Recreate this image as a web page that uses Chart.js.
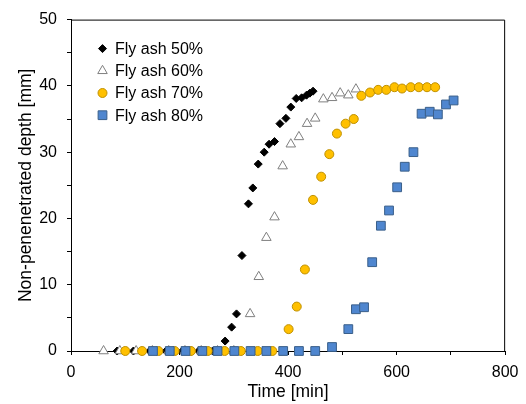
<!DOCTYPE html>
<html>
<head>
<meta charset="utf-8">
<script src="https://cdn.jsdelivr.net/npm/chart.js@4/dist/chart.umd.min.js"></script>
<style>
  html, body { margin: 0; padding: 0; background: #fff; }
</style>
</head>
<body>
<canvas id="chart" width="526" height="404"></canvas>
<script>
// values
const seriesNames = ['Fly ash 50%', 'Fly ash 60%', 'Fly ash 70%', 'Fly ash 80%'];

const time50 = [85, 115, 145, 175, 205, 235, 261, 284, 296, 305, 315, 327, 335, 345, 356, 365, 375, 385, 396, 405, 415, 425, 434, 440, 446];
const depth50 = [0, 0, 0, 0, 0, 0, 0, 1.5, 3.6, 5.6, 14.4, 22.2, 24.6, 28.2, 30.0, 31.2, 31.6, 34.3, 35.1, 36.8, 38.1, 38.2, 38.6, 38.9, 39.2];

const time60 = [60, 90, 120, 150, 180, 210, 240, 270, 300, 330, 346, 360, 375, 390, 405, 420, 435, 450, 465, 481, 496, 511, 525];
const depth60 = [0, 0, 0, 0, 0, 0, 0, 0, 0, 5.6, 11.2, 17.1, 20.2, 27.9, 31.2, 32.3, 34.3, 35.1, 38.0, 38.2, 38.9, 38.6, 39.5];

const time70 = [100, 131, 161, 191, 221, 252, 283, 313, 344, 371, 401, 416, 431, 446, 461, 476, 490, 506, 521, 535, 551, 566, 581, 596, 610, 626, 641, 656, 671];
const depth70 = [0, 0, 0, 0, 0, 0, 0, 0, 0, 0, 3.3, 6.7, 12.3, 22.8, 26.3, 29.7, 32.8, 34.3, 35.0, 38.5, 39.0, 39.4, 39.4, 39.8, 39.6, 39.8, 39.8, 39.8, 39.8];

const time80 = [151, 182, 211, 242, 270, 301, 331, 360, 391, 420, 450, 481, 511, 525, 540, 555, 571, 586, 601, 615, 631, 646, 661, 676, 691, 705];
const depth80 = [0, 0, 0, 0, 0, 0, 0, 0, 0, 0, 0, 0.6, 3.3, 6.3, 6.6, 13.4, 18.9, 21.2, 24.7, 27.8, 30.0, 35.8, 36.1, 35.7, 37.2, 37.8];

const xLabels = [0, 200, 400, 600, 800];
const yLabels = [0, 10, 20, 30, 40, 50];

const toPoints = (xs, ys) => xs.map((x, i) => ({ x: x, y: ys[i] }));

Chart.defaults.font.family = '"Liberation Sans", Arial, sans-serif';
Chart.defaults.color = '#000';

// box round the plot (top and right sides)
const frame = {
    id: 'frame',
    beforeDatasetsDraw(chart) {
        const a = chart.chartArea;
        const ctx = chart.ctx;
        ctx.save();
        ctx.strokeStyle = '#000';
        ctx.lineWidth = 1;
        ctx.beginPath();
        ctx.moveTo(a.left, a.top + 0.5);
        ctx.lineTo(a.right - 0.5, a.top + 0.5);
        ctx.lineTo(a.right - 0.5, a.bottom);
        ctx.stroke();
        ctx.restore();
    }
};

// legend inside the plot, top left
const insideLegend = {
    id: 'insideLegend',
    afterDatasetsDraw(chart) {
        const a = chart.chartArea;
        const ctx = chart.ctx;
        ctx.save();
        chart.data.datasets.forEach((ds, i) => {
            const y = a.top + 29 + i * 22.2;
            const x = a.left + 31.5;
            ctx.fillStyle = ds.backgroundColor;
            ctx.strokeStyle = ds.borderColor;
            ctx.lineWidth = ds.borderWidth;
            Chart.helpers.drawPoint(ctx, {
                pointStyle: ds.pointStyle,
                radius: ds.pointRadius,
                rotation: 0,
                borderWidth: ds.borderWidth
            }, x, y);
            ctx.fillStyle = '#000';
            ctx.font = '16px "Liberation Sans", Arial, sans-serif';
            ctx.textBaseline = 'middle';
            ctx.fillText(ds.label, x + 12.5, y + 1);
        });
        ctx.restore();
    }
};

new Chart(document.getElementById('chart'), {
    type: 'scatter',
    data: {
        datasets: [
            {
                label: seriesNames[0],
                data: toPoints(time50, depth50),
                pointStyle: 'rectRot',
                pointRadius: 4,
                backgroundColor: '#000',
                borderColor: '#000',
                borderWidth: 1,
                order: 4,
                clip: false
            },
            {
                label: seriesNames[1],
                data: toPoints(time60, depth60),
                pointStyle: 'triangle',
                pointRadius: 5.5,
                backgroundColor: '#fff',
                borderColor: '#7f7f7f',
                borderWidth: 1,
                order: 3,
                clip: false
            },
            {
                label: seriesNames[2],
                data: toPoints(time70, depth70),
                pointStyle: 'circle',
                pointRadius: 4.5,
                backgroundColor: '#ffc000',
                borderColor: '#bf9000',
                borderWidth: 1,
                order: 2,
                clip: false
            },
            {
                label: seriesNames[3],
                data: toPoints(time80, depth80),
                pointStyle: 'rect',
                pointRadius: 6.2,
                backgroundColor: '#4f86cf',
                borderColor: '#3a5f8a',
                borderWidth: 1,
                order: 1,
                clip: false
            }
        ]
    },
    options: {
        responsive: false,
        animation: false,
        layout: { padding: { top: 12, right: 19, left: 0, bottom: 0 } },
        plugins: {
            legend: { display: false },
            tooltip: { enabled: false }
        },
        scales: {
            x: {
                type: 'linear',
                min: 0,
                max: 800,
                afterFit: s => { s.height = 53; },
                ticks: {
                    stepSize: 100,
                    autoSkip: false,
                    maxRotation: 0,
                    padding: 7.5,
                    font: { size: 16 },
                    callback: v => xLabels.includes(v) ? v : ''
                },
                grid: { drawOnChartArea: false, drawTicks: true, tickLength: 4, color: '#000' },
                border: { display: true, color: '#000', width: 1 },
                title: {
                    display: true,
                    text: 'Time [min]',
                    font: { size: 17.5 },
                    padding: { top: 0, bottom: 1.5 }
                }
            },
            y: {
                type: 'linear',
                min: 0,
                max: 50,
                afterFit: s => { s.width = 71; },
                ticks: {
                    stepSize: 5,
                    autoSkip: false,
                    padding: 10,
                    font: { size: 16 },
                    callback: v => yLabels.includes(v) ? v : ''
                },
                grid: { drawOnChartArea: false, drawTicks: true, tickLength: 4, color: '#000' },
                border: { display: true, color: '#000', width: 1 },
                title: {
                    display: true,
                    text: 'Non-penenetrated depth [mm]',
                    font: { size: 17.5 },
                    padding: { top: 15.5, bottom: 0 }
                }
            }
        }
    },
    plugins: [frame, insideLegend]
});
</script>
</body>
</html>
